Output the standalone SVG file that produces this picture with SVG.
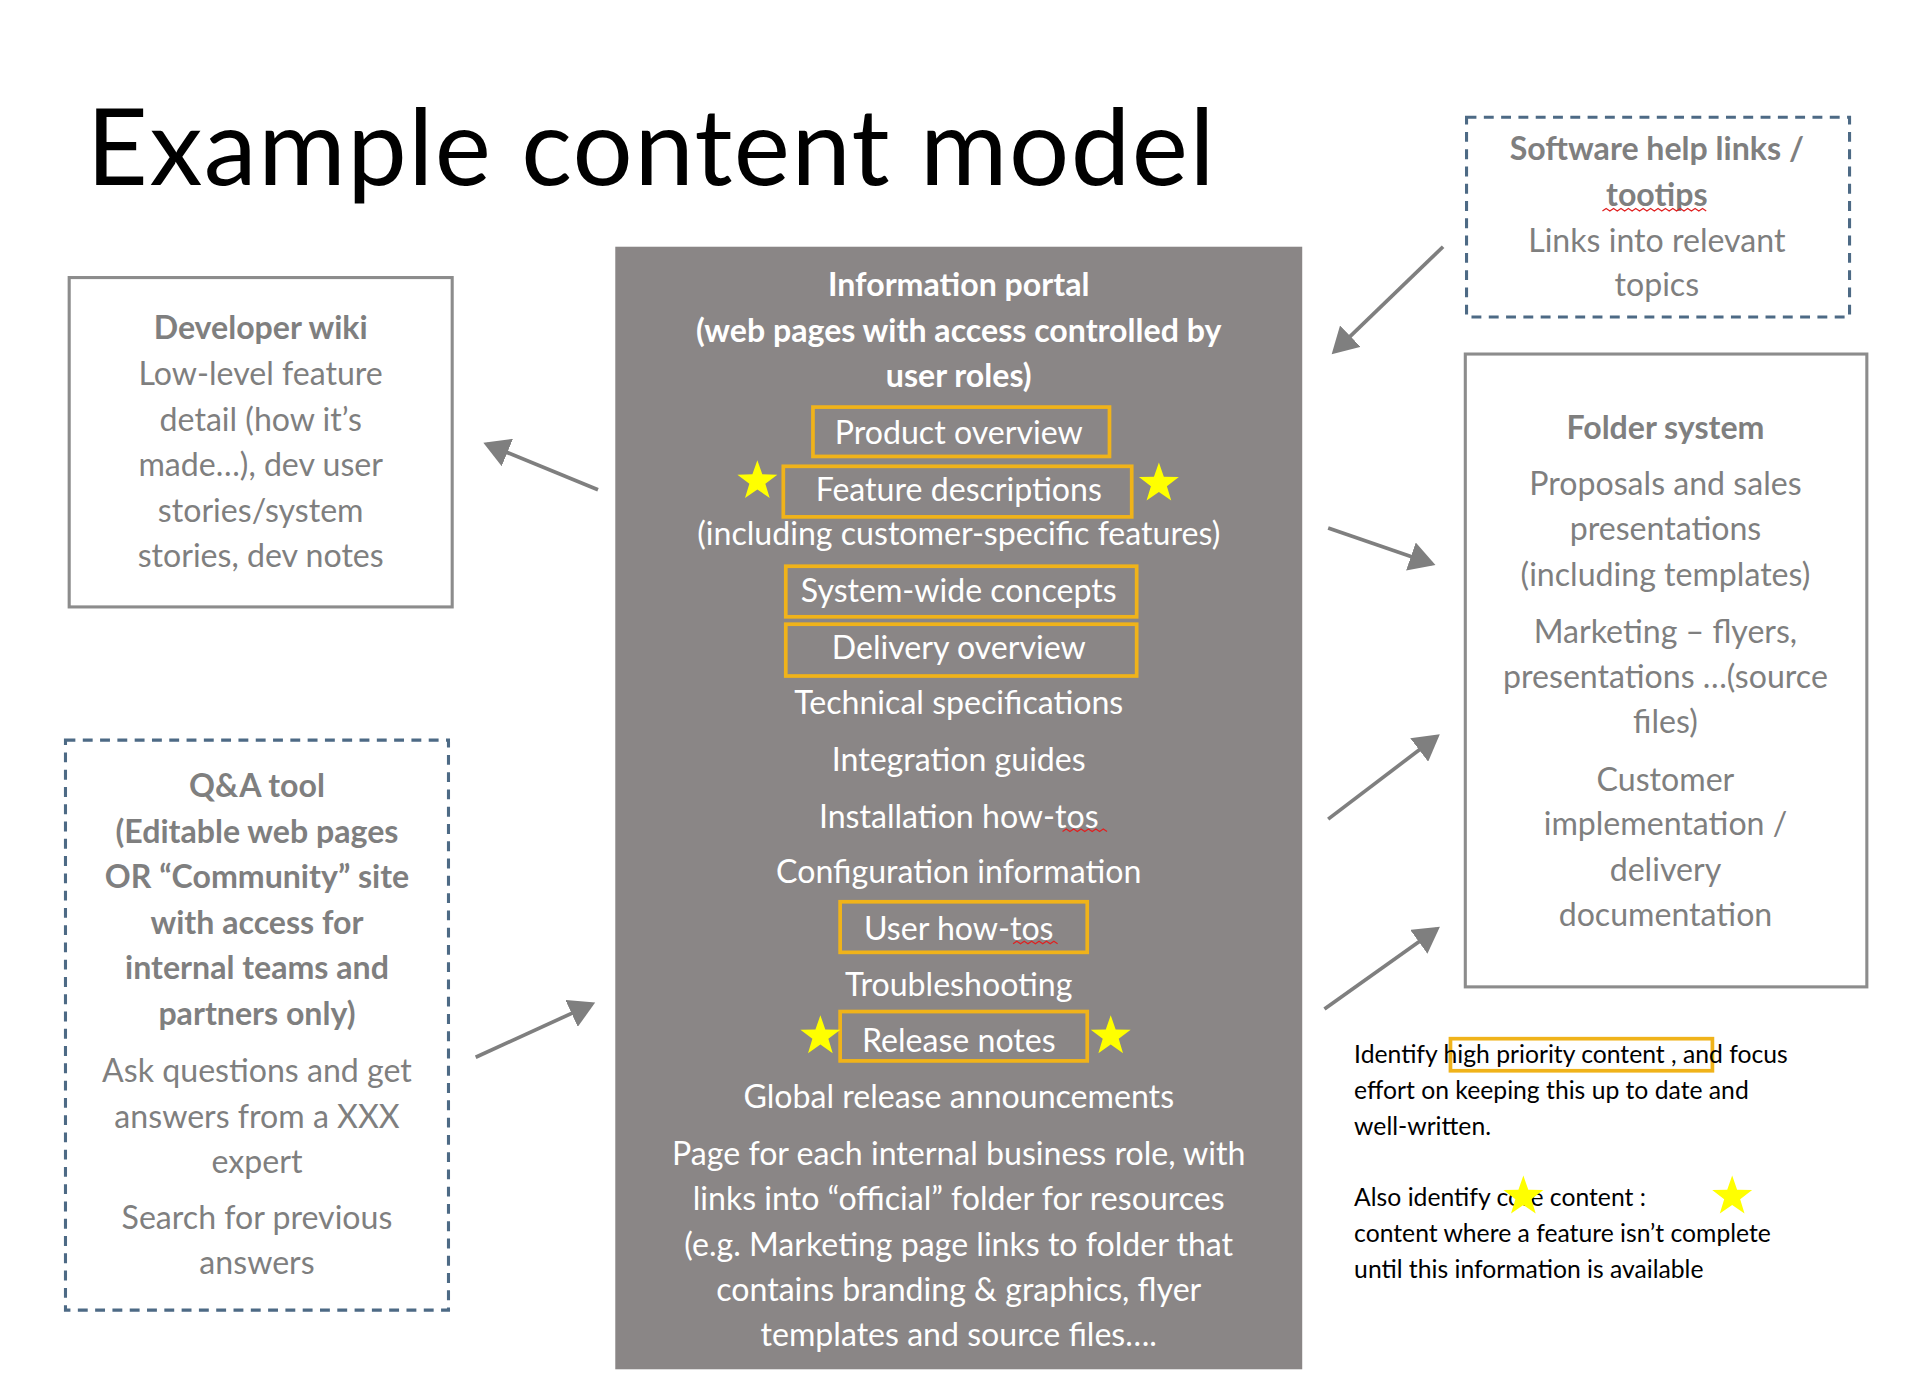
<svg xmlns="http://www.w3.org/2000/svg" width="1915" height="1394" viewBox="0 0 1915 1394">
<style>
.t{font-family:Lato,"Open Sans",sans-serif;text-anchor:middle;font-size:26px}
.w{fill:#ffffff}
.g{fill:#7f7f7f}
.b{font-weight:bold}
.hl{fill:none;stroke:#f0b31a;stroke-width:3}
.box{fill:#ffffff;stroke:#8c8c8c;stroke-width:2.5}
.dbox{fill:#ffffff;stroke:#4d6a85;stroke-width:2.5;stroke-dasharray:8 6}
.c{stroke:#7f7f7f;stroke-width:3;fill:none;marker-end:url(#ah)}
.n{font-family:Lato,"Open Sans",sans-serif;font-size:20px;fill:#000}
.sq{fill:none;stroke:#e02020;stroke-width:1}
</style>
<defs>
<marker id="ah" markerWidth="8" markerHeight="8" refX="6" refY="4" orient="auto" markerUnits="strokeWidth"><path d="M0,0 L7,4 L0,8 Z" fill="#7f7f7f"/></marker>
<path id="star" d="M0,-17 L4,-5.5 16.17,-5.25 6.47,2.1 9.99,13.75 0,6.8 -9.99,13.75 -6.47,2.1 -16.17,-5.25 -4,-5.5Z" fill="#ffff00"/>
</defs>
<rect width="1915" height="1394" fill="#ffffff"/>
<g transform="scale(1.2355,1.2336)">
<text x="70" y="150" font-family="Lato,'Open Sans',sans-serif" font-size="86" fill="#000" textLength="913">Example content model</text>

<g id="portal">
<rect x="498" y="200" width="556" height="910" fill="#8a8686"/>
<text class="t w b" x="776" y="240">Information portal</text>
<text class="t w b" x="776" y="277">(web pages with access controlled by</text>
<text class="t w b" x="776" y="314">user roles)</text>
<rect class="hl" x="658" y="330" width="240" height="40"/>
<text class="t w" x="776" y="360">Product overview</text>
<rect class="hl" x="634" y="378" width="282" height="41"/>
<use href="#star" x="613" y="390"/><use href="#star" x="938" y="392"/>
<text class="t w" x="776" y="406">Feature descriptions</text>
<text class="t w" x="776" y="442">(including customer-specific features)</text>
<rect class="hl" x="636" y="459" width="284" height="41"/>
<text class="t w" x="776" y="488">System-wide concepts</text>
<rect class="hl" x="636" y="506" width="284" height="42"/>
<text class="t w" x="776" y="534">Delivery overview</text>
<text class="t w" x="776" y="579">Technical specifications</text>
<text class="t w" x="776" y="625">Integration guides</text>
<text class="t w" x="776" y="671">Installation how-tos</text>
<path class="sq" d="M860,674 l3,-2 3,2 3,-2 3,2 3,-2 3,2 3,-2 3,2 3,-2 3,2 3,-2 3,2"/>
<text class="t w" x="776" y="716">Configuration information</text>
<rect class="hl" x="680" y="731" width="200" height="41"/>
<text class="t w" x="776" y="762">User how-tos</text>
<path class="sq" d="M820,765 l3,-2 3,2 3,-2 3,2 3,-2 3,2 3,-2 3,2 3,-2 3,2 3,-2 3,2"/>
<text class="t w" x="776" y="807">Troubleshooting</text>
<rect class="hl" x="680" y="820" width="200" height="40"/>
<use href="#star" x="664" y="840"/><use href="#star" x="899" y="840"/>
<text class="t w" x="776" y="853">Release notes</text>
<text class="t w" x="776" y="898">Global release announcements</text>
<text class="t w" x="776" y="944">Page for each internal business role, with</text>
<text class="t w" x="776" y="981">links into “official” folder for resources</text>
<text class="t w" x="776" y="1018">(e.g. Marketing page links to folder that</text>
<text class="t w" x="776" y="1055">contains branding &amp; graphics, flyer</text>
<text class="t w" x="776" y="1091">templates and source files….</text>
</g>

<g id="devwiki">
<rect class="box" x="56" y="225" width="310" height="267"/>
<text class="t g b" x="211" y="275">Developer wiki</text>
<text class="t g" x="211" y="312">Low-level feature</text>
<text class="t g" x="211" y="349">detail (how it’s</text>
<text class="t g" x="211" y="386">made…), dev user</text>
<text class="t g" x="211" y="423">stories/system</text>
<text class="t g" x="211" y="460">stories, dev notes</text>
</g>

<g id="qa">
<rect class="dbox" x="53" y="600" width="310" height="462"/>
<text class="t g b" x="208" y="646">Q&amp;A tool</text>
<text class="t g b" x="208" y="683">(Editable web pages</text>
<text class="t g b" x="208" y="720">OR “Community” site</text>
<text class="t g b" x="208" y="757">with access for</text>
<text class="t g b" x="208" y="794">internal teams and</text>
<text class="t g b" x="208" y="831">partners only)</text>
<text class="t g" x="208" y="877">Ask questions and get</text>
<text class="t g" x="208" y="914">answers from a XXX</text>
<text class="t g" x="208" y="951">expert</text>
<text class="t g" x="208" y="996">Search for previous</text>
<text class="t g" x="208" y="1033">answers</text>
</g>

<g id="software">
<rect class="dbox" x="1187" y="95" width="310" height="162"/>
<text class="t g b" x="1341" y="130">Software help links /</text>
<text class="t g b" x="1341" y="167">tootips</text>
<path class="sq" d="M1297,171 l3,-2 3,2 3,-2 3,2 3,-2 3,2 3,-2 3,2 3,-2 3,2 3,-2 3,2 3,-2 3,2 3,-2 3,2 3,-2 3,2 3,-2 3,2 3,-2 3,2 3,-2 3,2 3,-2 3,2 3,-2 3,2"/>
<text class="t g" x="1341" y="204">Links into relevant</text>
<text class="t g" x="1341" y="240">topics</text>
</g>

<g id="folder">
<rect class="box" x="1186" y="287" width="325" height="513"/>
<text class="t g b" x="1348" y="356">Folder system</text>
<text class="t g" x="1348" y="401">Proposals and sales</text>
<text class="t g" x="1348" y="438">presentations</text>
<text class="t g" x="1348" y="475">(including templates)</text>
<text class="t g" x="1348" y="521">Marketing – flyers,</text>
<text class="t g" x="1348" y="558">presentations …(source</text>
<text class="t g" x="1348" y="594">files)</text>
<text class="t g" x="1348" y="641">Customer</text>
<text class="t g" x="1348" y="677">implementation /</text>
<text class="t g" x="1348" y="714">delivery</text>
<text class="t g" x="1348" y="751">documentation</text>
</g>

<g id="connectors">
<line class="c" x1="484" y1="397" x2="394" y2="360"/>
<line class="c" x1="1168" y1="200" x2="1080" y2="285"/>
<line class="c" x1="1075" y1="428" x2="1159" y2="457"/>
<line class="c" x1="1075" y1="664" x2="1163" y2="597"/>
<line class="c" x1="1072" y1="818" x2="1163" y2="753"/>
<line class="c" x1="385" y1="857" x2="479" y2="814"/>
</g>

<g id="note">
<rect class="hl" x="1174" y="842" width="212" height="26"/>
<text class="n" x="1096" y="862">Identify  high priority content , and focus</text>
<text class="n" x="1096" y="891">effort on keeping this up to date and</text>
<text class="n" x="1096" y="920">well-written.</text>
<text class="n" x="1096" y="978">Also identify        core content      :</text>
<use href="#star" x="1233" y="970"/><use href="#star" x="1402" y="970"/>
<text class="n" x="1096" y="1007">content where a feature isn’t complete</text>
<text class="n" x="1096" y="1036">until this information is available</text>
</g>
</g>
</svg>
